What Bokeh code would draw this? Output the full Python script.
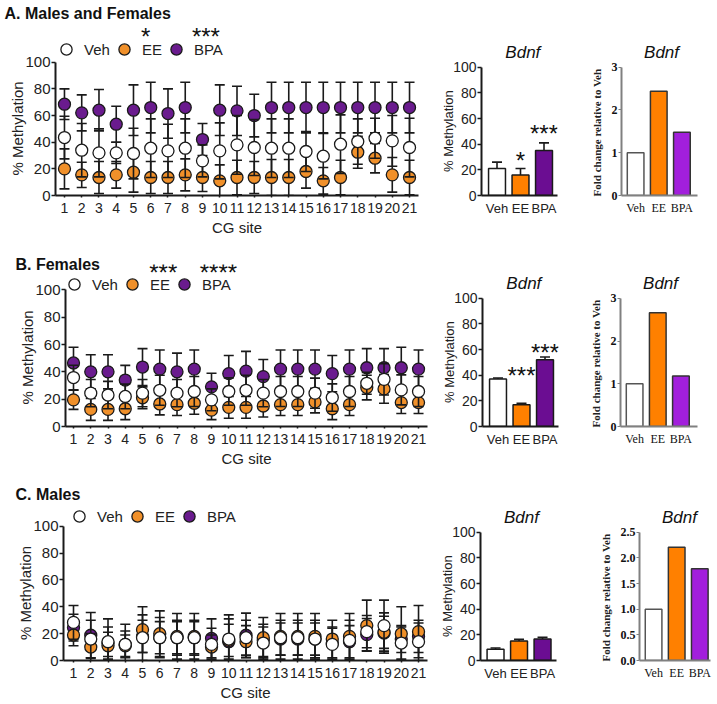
from bokeh.plotting import figure
from bokeh.layouts import column, row
from bokeh.models import (ColumnDataSource, Range1d, FixedTicker, Legend, LegendItem, Label, Title,
                          NumeralTickFormatter)
from bokeh.embed import file_html
from bokeh.resources import INLINE

# ---------------- data ----------------
sites = list(range(1, 22))
groups = ["Veh", "EE", "BPA"]

# A. Males and Females
veh_A = [43.5, 34, 32, 32, 31.5, 35.5, 33.5, 35.5, 26, 33.5, 38, 36, 35.5, 35.5, 33, 29.5, 38.5, 40.5, 43, 41, 36]
veh_A_err = [16, 20, 18, 8, 19, 22, 20, 22, 12, 21, 22, 21, 22, 22, 15, 17, 22, 17, 15, 19, 22]
ee_A = [20, 15.5, 13.5, 15.5, 17.5, 13.5, 13.5, 15.5, 13.5, 11, 13.5, 13.5, 13.5, 13.5, 18, 11, 13.5, 32.5, 28, 15.5, 13.5]
ee_A_err = [15, 9.5, 12, 10, 15, 12, 12, 12, 10.5, 12, 13, 12, 13.5, 13.5, 12.5, 10, 13, 12, 11, 13, 13]
bpa_A = [68.5, 62, 64, 53.5, 64, 66, 61.5, 66, 42, 64, 63.5, 60, 66, 66, 66, 66, 66, 66, 66, 66, 66]
bpa_A_err = [11.5, 13.5, 15.5, 13.5, 19, 19, 18.5, 19, 12, 19, 18.5, 16, 19, 19, 19, 19, 19, 19, 19, 19, 19]

# B. Females
veh_B = [35.8, 24.4, 23, 22, 24.4, 26.5, 24.4, 25.6, 19.5, 25.6, 26.5, 24.4, 25.6, 25.6, 24.4, 21.2, 25.6, 31.6, 34.5, 26.8, 25.6]
veh_B_err = [9, 10, 10, 9, 10, 11, 10, 11, 8, 10, 11, 10, 11, 11, 11, 10, 11, 8, 11.5, 11, 11]
ee_B = [19.5, 12.5, 12.5, 13, 21, 16.5, 16, 17, 12, 14, 14, 15, 16, 16, 18, 13, 16, 28.5, 27.5, 17.5, 17.5]
ee_B_err = [7, 8, 8, 8, 8, 8, 8, 8, 7, 8, 8, 8, 8, 8, 8, 8, 8, 9, 10.5, 8, 8]
bpa_B = [46.5, 40, 40, 34, 43.5, 42, 40, 42, 29, 38.7, 40.5, 36.5, 42, 42, 42, 38.7, 42, 43, 43, 43, 42]
bpa_B_err = [11.5, 12.5, 12.5, 10.7, 13.5, 14, 13.7, 14, 10, 13.3, 14.5, 12.5, 14, 14, 14, 13.3, 14, 14, 14, 15, 14]

# C. Males
veh_C = [28.4, 16, 14, 12, 17, 17, 17, 17, 12, 16, 17, 13, 17, 17, 16, 12, 15, 21.5, 26, 13, 14]
veh_C_err = [12.6, 14, 11, 10, 17, 15, 13, 13, 12, 15, 13, 12, 13, 13, 14, 12, 15, 12, 19, 12, 14]
ee_C = [19, 10, 11, 11, 23, 20, 18, 18, 10, 15, 14, 17, 18, 18, 18, 16, 18, 26, 21, 20, 21.5]
ee_C_err = [8, 10, 10, 8, 17, 17, 17, 17, 9, 12, 12, 15, 17, 17, 17, 14, 17, 19, 12, 20, 19.5]
bpa_C = [24.5, 18.8, 13, 12, 18, 17, 17, 17, 16.5, 14, 18.8, 15, 16, 16, 16, 13, 14, 19.3, 20.5, 16, 18]
bpa_C_err = [10, 17, 18, 15, 12, 12, 12, 12, 14.5, 20, 16.5, 12, 12, 12, 12, 12, 12, 12, 15, 10, 12]

# Bdnf mean methylation (bars) and error (upper only)
bar_A = [21, 16, 35]
bar_A_err = [5, 5, 6]
bar_B = [37, 17, 52]
bar_B_err = [0.8, 1, 2.2]
bar_C = [8.7, 15.3, 16.8]
bar_C_err = [1, 1.2, 1.2]

# Bdnf fold change relative to Veh
fold_A = [1.0, 2.44, 1.48]
fold_B = [1.0, 2.66, 1.18]
fold_C = [1.0, 2.21, 1.79]

# significance marks
stars_A_sites = [5.7, 9.2]
stars_A_text = ["*", "***"]
stars_B_sites = [6.2, 9.4]
stars_B_text = ["***", "****"]
bar_stars_A = ["", "*", "***"]
bar_stars_B = ["", "***", "***"]

# ---------------- style ----------------
SANS = "Liberation Sans"
SERIF = "Liberation Serif"
INK = "#1a1a1a"
C_VEH = "#ffffff"
C_EE = "#F0902A"
C_BPA = "#6A1B8E"
C_EE_BAR = "#FF8000"
C_BPA_BAR = "#6B0D92"
C_BPA_FOLD = "#A21FDC"
GREY = "#808080"
BOTTOM = 42


def base_fig(width, height, xr, yr, left, right, top):
    p = figure(width=width, height=height, x_range=Range1d(*xr), y_range=Range1d(*yr),
               output_backend="svg", toolbar_location=None,
               min_border_left=left, min_border_right=right,
               min_border_top=top, min_border_bottom=BOTTOM)
    p.grid.visible = False
    p.outline_line_color = None
    p.background_fill_color = None
    p.border_fill_color = None
    for ax in (p.xaxis, p.yaxis):
        ax.minor_tick_line_color = None
        ax.major_tick_in = 0
        ax.axis_label_text_font_style = "normal"
    return p


def side_label(p, text, font, size, style, offset, standoff):
    t = Title(text=text, align="left", offset=offset, standoff=standoff,
              text_font=font, text_font_size=size, text_font_style=style,
              text_color="#222222")
    p.add_layout(t, "left")


def scatter_panel(title, title_dx, series, stars_x, stars_t, star_y, x0,
                  height, top, zero_px, scale, left, right, legend_center, legend_dx, ylab_off):
    p = base_fig(431, height, (x0, 21.52), (0, (zero_px - top) / scale), left, right, top)
    p.title.text = title
    p.title.align = "left"
    p.title.offset = title_dx
    p.title.standoff = -16
    p.title.text_font = SANS
    p.title.text_font_size = "16px"
    p.title.text_font_style = "bold"
    p.title.text_color = "#111111"

    renderers = {}
    for name, vals, errs, color in series:
        lo = [v - e for v, e in zip(vals, errs)]
        hi = [v + e for v, e in zip(vals, errs)]
        src = ColumnDataSource(dict(x=sites, y=vals, lo=lo, hi=hi))
        p.segment(x0="x", y0="lo", x1="x", y1="hi", source=src, line_color=INK, line_width=1.6)
        p.scatter(x="x", y="hi", marker="dash", size=10, line_color=INK, line_width=1.6, source=src)
        p.scatter(x="x", y="lo", marker="dash", size=10, line_color=INK, line_width=1.6, source=src)
        r = p.scatter(x="x", y="y", marker="circle", size=12, fill_color=color,
                      line_color=INK, line_width=1.3, source=src)
        renderers[name] = r

    gh = 28
    legend = Legend(items=[LegendItem(label=g, renderers=[renderers[g]]) for g in groups],
                    orientation="horizontal",
                    location=(legend_dx, zero_px - legend_center - gh / 2),
                    glyph_width=gh, glyph_height=gh, label_standoff=4, spacing=0,
                    padding=0, margin=0, border_line_color=None, background_fill_alpha=0,
                    label_text_font=SANS, label_text_font_size="15px", label_text_color="#222222")
    p.add_layout(legend)

    for sx, st in zip(stars_x, stars_t):
        p.add_layout(Label(x=sx, y=star_y, text=st, text_font=SANS, text_font_size="24px",
                           text_align="center", text_baseline="alphabetic", text_color="#111111"))

    p.xaxis.ticker = FixedTicker(ticks=sites)
    p.yaxis.ticker = FixedTicker(ticks=[0, 20, 40, 60, 80, 100])
    p.yaxis.bounds = (0, 100)
    p.xaxis.axis_label = "CG site"
    for ax in (p.xaxis, p.yaxis):
        ax.axis_line_width = 2
        ax.axis_line_color = INK
        ax.major_tick_line_width = 1.5
        ax.major_tick_line_color = INK
        ax.major_label_text_font = SANS
        ax.major_label_text_color = "#222222"
    p.xaxis.axis_label_text_font = SANS
    p.xaxis.axis_label_text_font_size = "15px"
    p.xaxis.axis_label_text_color = "#222222"
    p.xaxis.axis_label_standoff = 3
    p.yaxis.major_tick_out = 4
    p.yaxis.major_label_standoff = 1
    p.yaxis.major_label_text_font_size = "15px"
    p.xaxis.major_tick_out = 2
    p.xaxis.major_label_standoff = 5
    p.xaxis.major_label_text_font_size = "14px"
    side_label(p, "% Methylation", SANS, "15px", "normal", ylab_off, -6)
    return p


def bar_panel(vals, errs, stars, star_y, x0, width, height, top, zero_px, scale, left, right):
    p = base_fig(width, height, (x0, x0 + 76 / 23.5), (0, (zero_px - top) / scale), left, right, top)
    p.add_layout(Label(x=2.1, y=100, y_offset=15, text="Bdnf", text_font=SANS,
                       text_font_size="17px", text_font_style="italic", text_align="center",
                       text_baseline="middle", text_color="#111111"))
    bx = [1, 2, 3]
    hi = [v + e for v, e in zip(vals, errs)]
    src = ColumnDataSource(dict(x=bx, top=vals, hi=hi, color=[C_VEH, C_EE_BAR, C_BPA_BAR]))
    p.segment(x0="x", y0="top", x1="x", y1="hi", source=src, line_color=INK, line_width=1.6)
    p.scatter(x="x", y="hi", marker="dash", size=10, line_color=INK, line_width=1.6, source=src)
    p.vbar(x="x", top="top", width=0.72, bottom=0, fill_color="color", line_color=INK,
           line_width=1.5, source=src)
    for x, st, sy in zip(bx, stars, star_y):
        if st:
            p.add_layout(Label(x=x, y=sy, text=st, text_font=SANS, text_font_size="24px",
                               text_align="center", text_baseline="alphabetic", text_color="#111111"))
    p.xaxis.ticker = FixedTicker(ticks=bx)
    p.xaxis.major_label_overrides = {i + 1: g for i, g in enumerate(groups)}
    p.yaxis.ticker = FixedTicker(ticks=[0, 20, 40, 60, 80, 100])
    p.yaxis.bounds = (0, 100)
    for ax in (p.xaxis, p.yaxis):
        ax.axis_line_width = 2
        ax.axis_line_color = INK
        ax.major_tick_line_width = 1.5
        ax.major_tick_line_color = INK
        ax.major_label_text_font = SANS
        ax.major_label_text_color = "#222222"
    p.yaxis.major_tick_out = 4
    p.yaxis.major_label_standoff = 1
    p.yaxis.major_label_text_font_size = "14px"
    p.xaxis.major_tick_out = 0
    p.xaxis.major_label_standoff = 5
    p.xaxis.major_label_text_font_size = "13px"
    side_label(p, "% Methylation", SANS, "13px", "normal", 23.5, -10)
    return p


def fold_panel(vals, ymax, yticks, x0, frame_w, width, height, top, zero_px, scale, left, right,
               lab_standoff, tick_fmt=None):
    p = base_fig(width, height, (x0, x0 + frame_w / 23.75), (0, (zero_px - top) / scale), left, right, top)
    p.add_layout(Label(x=2.12, y=ymax, y_offset=15, text="Bdnf", text_font=SANS,
                       text_font_size="17px", text_font_style="italic", text_align="center",
                       text_baseline="middle", text_color="#111111"))
    bx = [1, 2, 3]
    src = ColumnDataSource(dict(x=bx, top=vals, color=[C_VEH, C_EE_BAR, C_BPA_FOLD],
                                line=["#555555", "#333333", "#333333"]))
    p.vbar(x="x", top="top", width=0.72, bottom=0, fill_color="color", line_color="line",
           line_width=1.5, source=src)
    p.xaxis.ticker = FixedTicker(ticks=bx)
    p.xaxis.major_label_overrides = {i + 1: g for i, g in enumerate(groups)}
    p.yaxis.ticker = FixedTicker(ticks=yticks)
    if tick_fmt:
        p.yaxis.formatter = NumeralTickFormatter(format=tick_fmt)
    p.yaxis.bounds = (0, ymax)
    for ax in (p.xaxis, p.yaxis):
        ax.axis_line_width = 2
        ax.axis_line_color = GREY
        ax.major_tick_line_width = 1.2
        ax.major_tick_line_color = GREY
        ax.major_label_text_font = SERIF
        ax.major_label_text_color = "#111111"
    p.yaxis.major_tick_out = 3
    p.yaxis.major_label_standoff = 1
    p.yaxis.major_label_text_font_size = "12px"
    p.yaxis.major_label_text_font_style = "bold"
    p.xaxis.major_tick_out = 0
    p.xaxis.major_label_standoff = 5
    p.xaxis.major_label_text_font_size = "12px"
    side_label(p, "Fold change relative to Veh", SERIF, "11px", "bold", -1, lab_standoff)
    return p


# ---------------- panels ----------------
# Row A: canvas 0-238, frame 13-196
sA = scatter_panel("A. Males and Females", -51,
                   [("BPA", bpa_A, bpa_A_err, C_BPA), ("EE", ee_A, ee_A_err, C_EE), ("Veh", veh_A, veh_A_err, C_VEH)],
                   stars_A_sites, stars_A_text, 119.4, 0.48,
                   238, 13, 196, 1.34, 55, 13, 50, -3, 20)
bA = bar_panel(bar_A, bar_A_err, bar_stars_A, [None, 27.1, 48.1], 0.34, 152, 238, 13, 196, 1.29, 50, 26)
fA = fold_panel(fold_A, 3, [0, 1, 2, 3], 0.39, 78, 134, 238, 13, 196, 43.0, 36, 20, 11)

# Row B: canvas 238-469, frame 264-427
sB = scatter_panel("B. Females", -50,
                   [("BPA", bpa_B, bpa_B_err, C_BPA), ("EE", ee_B, ee_B_err, C_EE), ("Veh", veh_B, veh_B_err, C_VEH)],
                   stars_B_sites, stars_B_text, 112.7, 0.536,
                   231, 26, 189, 1.375, 65, 4, 47, -5, 22)
bB = bar_panel(bar_B, bar_B_err, bar_stars_B, [None, 39.5, 58.1], 0.34, 151, 231, 26, 189, 1.29, 51, 24)
fB = fold_panel(fold_B, 3, [0, 1, 2, 3], 0.39, 79, 135, 231, 26, 189, 43.0, 36, 20, 11)

# Row C: canvas 469-703, frame 494-661
sC = scatter_panel("C. Males", -48,
                   [("BPA", bpa_C, bpa_C_err, C_BPA), ("EE", ee_C, ee_C_err, C_EE), ("Veh", veh_C, veh_C_err, C_VEH)],
                   [], [], 110, 0.42,
                   234, 25, 192, 1.35, 63, 4, 48, 2, 20.5)
bC = bar_panel(bar_C, bar_C_err, ["", "", ""], [None, None, None], 0.36, 160, 234, 25, 192, 1.29, 49, 35)
fC = fold_panel(fold_C, 2.5, [0, 0.5, 1.0, 1.5, 2.0, 2.5], 0.39, 73, 126, 234, 25, 192, 51.6, 46, 7, 12,
                tick_fmt="0.0")

layout = column(row(sA, bA, fA), row(sB, bB, fB), row(sC, bC, fC), spacing=0)

open("out.html", "w").write(file_html(layout, INLINE))
